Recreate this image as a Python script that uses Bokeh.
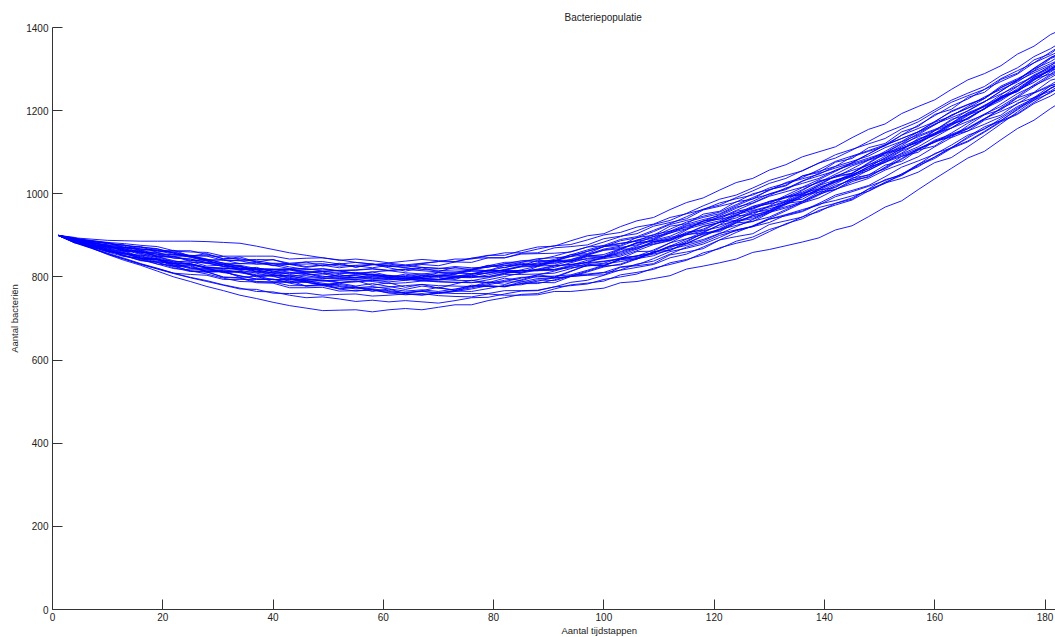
from bokeh.plotting import figure
from bokeh.embed import file_html
from bokeh.resources import INLINE
from bokeh.models import Range1d, FixedTicker, Title

steps = [1, 4, 7, 10, 13, 16, 19, 22, 25, 28, 31, 34, 37, 40, 43, 46, 49, 52, 55, 58, 61,
         64, 67, 70, 73, 76, 79, 82, 85, 88, 91, 94, 97, 100, 103, 106, 109, 112, 115, 118,
         121, 124, 127, 130, 133, 136, 139, 142, 145, 148, 151, 154, 157, 160, 163, 166,
         169, 172, 175, 178, 181, 184]

run_a = [900,892,881,877,874,863,862,859,850,851,849,841,842,841,833,836,837,831,835,831,825,828,823,820,825,822,823,832,830,831,839,841,852,864,868,882,897,905,922,930,940,958,965,982,992,1010,1029,1040,1060,1081,1093,1116,1140,1155,1170,1195,1211,1238,1264,1282,1308,1333]
run_b = [900,883,870,854,840,828,814,800,789,777,767,756,748,739,731,725,719,720,721,716,721,724,721,727,733,733,743,750,758,760,771,781,785,790,805,811,818,834,842,853,870,881,890,909,928,940,960,973,985,1007,1028,1044,1068,1085,1109,1125,1148,1173,1191,1217,1235,1259]
run_c = [900,885,880,866,854,849,837,833,822,814,812,802,795,795,785,778,779,771,766,769,762,757,760,755,753,752,759,756,756,757,765,765,769,773,786,789,796,803,819,826,834,843,859,866,875,884,894,913,923,945,968,983,1010,1036,1061,1086,1102,1130,1157,1177,1205,1230]
run_d = [900,891,885,872,870,865,854,853,850,841,841,839,831,833,832,825,829,830,824,829,831,826,832,837,836,845,852,852,863,872,874,887,899,904,921,935,943,962,979,990,1009,1027,1037,1057,1070,1089,1101,1113,1135,1155,1168,1193,1210,1226,1251,1274,1289,1308,1336,1355,1383,1401]
run_e = [900,890,884,871,866,861,850,846,843,834,825,824,817,809,808,808,802,796,797,800,796,792,796,801,800,799,800,808,815,815,816,826,829,833,846,850,857,873,880,890,905,913,922,939,947,957,975,984,995,1006,1026,1037,1052,1075,1087,1113,1140,1168,1197,1225,1253,1278]
run_f = [900,884,871,865,851,839,835,822,813,812,800,798,789,788,779,779,781,773,774,777,771,766,769,765,771,778,777,777,784,784,793,804,807,811,824,829,844,861,869,879,895,913,921,931,949,959,977,997,1008,1020,1041,1064,1079,1095,1117,1141,1155,1181,1207,1225,1243,1267]
run_g = [900,890,878,873,868,856,852,849,840,832,830,828,820,819,819,813,808,810,811,806,801,803,807,811,809,808,815,823,830,831,832,842,854,865,871,877,891,908,924,934,943,960,977,994,1005,1016,1034,1054,1073,1086,1099,1121,1145,1168,1183,1199,1221,1247,1272,1291,1309,1333]
run_h = [900,886,874,868,856,845,842,832,822,820,818,810,803,803,802,796,791,793,794,789,784,786,790,794,792,791,798,806,806,807,809,820,832,837,843,850,865,882,892,902,912,930,947,958,969,981,1000,1020,1033,1046,1060,1083,1107,1124,1139,1156,1179,1205,1224,1243,1262,1287]
run_i = [900,893,888,883,880,876,873,863,863,854,844,844,836,828,820,820,814,808,809,804,799,801,797,794,799,798,805,813,814,815,823,834,845,849,856,870,885,895,904,915,932,950,960,970,982,1001,1020,1033,1045,1065,1086,1109,1126,1142,1158,1182,1205,1224,1250,1277,1296,1313]
run_j = [900,882,869,855,843,830,820,809,806,804,794,794,794,794,787,789,791,786,789,792,788,792,796,794,801,808,809,818,826,828,838,849,854,867,874,889,897,915,932,943,952,971,988,999,1010,1030,1049,1062,1074,1096,1117,1133,1149,1174,1197,1214,1229,1256,1274,1302,1328,1346]
run_k = [900,889,876,872,868,857,846,835,832,823,821,821,821,814,806,799,800,802,803,798,793,795,799,804,802,801,801,809,817,826,835,839,843,847,853,867,882,892,901,911,920,937,954,964,975,993,1012,1032,1044,1065,1086,1109,1125,1141,1164,1188,1211,1229,1247,1274,1300,1325]
run_l = [900,886,875,869,865,860,857,853,851,843,833,825,817,809,802,795,790,792,794,796,799,795,791,788,787,786,793,801,809,817,826,830,834,838,844,851,858,874,891,908,925,935,944,955,966,978,997,1017,1036,1057,1078,1093,1109,1126,1141,1157,1180,1206,1232,1258,1284,1302]
run_m = [900,891,886,881,877,867,865,862,860,859,850,850,850,850,843,845,846,840,843,839,834,838,842,839,837,845,846,846,855,856,857,860,872,875,881,887,902,910,919,929,945,954,963,980,990,1001,1012,1032,1043,1056,1076,1090,1106,1129,1143,1159,1181,1198,1216,1242,1259,1276]
run_n = [900,884,870,856,843,831,819,808,798,789,780,771,770,761,760,761,756,758,759,754,756,759,756,761,766,765,772,780,781,790,798,801,812,824,831,845,860,870,887,904,914,932,948,959,978,996,1008,1028,1047,1060,1080,1103,1120,1144,1166,1182,1204,1230,1249,1268,1293,1317]
run_o = [900,889,883,877,865,854,843,833,831,823,821,819,819,818,818,812,814,816,817,820,816,819,823,821,819,819,827,835,836,837,839,850,862,873,887,894,909,926,936,946,956,974,991,1008,1027,1039,1058,1078,1091,1104,1118,1141,1165,1188,1211,1228,1251,1277,1296,1315,1341,1366]
run_p = [900,886,873,860,849,845,841,838,835,834,825,816,809,801,794,787,782,777,771,774,776,779,782,779,778,777,784,792,799,800,802,805,816,828,841,847,855,864,880,898,914,924,934,944,962,981,999,1011,1024,1037,1057,1072,1089,1113,1135,1151,1167,1185,1210,1229,1254,1271]
run_q = [900,884,871,857,845,832,821,809,799,791,781,773,765,764,756,750,752,747,741,744,740,743,740,737,743,750,751,759,766,767,776,787,792,804,817,831,838,855,872,883,900,911,921,939,950,962,973,993,1005,1018,1032,1047,1071,1088,1111,1134,1157,1176,1202,1228,1254,1272]
run_r = [900,891,886,880,876,872,868,857,848,839,830,821,814,806,799,792,793,787,788,791,793,796,799,804,809,816,824,831,839,841,850,861,872,884,897,911,926,936,953,971,987,997,1014,1032,1044,1055,1074,1094,1107,1120,1133,1156,1173,1197,1220,1236,1251,1270,1288,1315,1333,1351]
run_s = [900,887,875,863,851,840,836,832,830,822,820,818,818,817,817,817,819,814,808,804,799,795,791,789,787,787,787,788,788,796,797,801,805,810,816,823,830,846,855,872,889,907,923,941,959,978,990,1010,1029,1042,1062,1085,1108,1124,1146,1170,1192,1210,1235,1262,1287,1305]
run_t = [900,894,891,888,887,886,886,886,886,885,883,881,874,866,858,852,846,841,835,831,826,822,818,816,814,814,814,815,815,817,818,828,840,844,850,863,878,887,903,921,931,949,966,977,996,1015,1027,1047,1067,1081,1102,1125,1142,1166,1189,1206,1229,1255,1274,1301,1327,1345]
run_u = [900,889,882,876,871,867,863,860,851,842,833,832,831,831,830,831,832,826,828,830,833,829,833,837,843,843,851,858,858,867,875,878,889,901,907,920,927,943,952,962,978,988,997,1014,1025,1036,1047,1066,1078,1091,1111,1126,1149,1172,1187,1210,1233,1251,1269,1295,1313,1330]
run_v = [900,886,874,861,856,851,840,829,820,818,815,813,805,804,803,803,797,798,799,794,796,798,794,792,797,803,810,810,811,819,827,830,835,846,859,872,879,889,905,922,931,942,958,968,980,998,1016,1028,1041,1061,1081,1096,1113,1136,1158,1174,1190,1216,1241,1260,1279,1303]
run_w = [900,892,887,882,871,867,864,854,852,850,840,839,839,832,824,818,820,815,809,812,815,818,815,812,811,818,826,827,835,844,846,849,861,873,880,886,893,910,927,938,947,965,982,1000,1012,1031,1043,1055,1075,1096,1117,1133,1149,1166,1189,1206,1221,1247,1273,1300,1318,1343]
run_x = [900,887,876,870,858,846,835,825,815,807,797,789,788,787,787,787,781,782,776,771,767,762,765,762,760,760,760,767,767,768,776,779,783,794,800,807,821,830,840,858,868,886,896,914,926,945,957,977,990,1011,1025,1048,1065,1089,1111,1127,1150,1175,1193,1220,1245,1262]
run_y = [900,885,873,861,857,852,849,839,829,821,811,803,795,794,794,794,796,797,799,801,804,800,796,794,800,806,814,815,815,817,818,822,826,831,837,844,851,867,876,887,904,921,938,955,974,992,1011,1030,1050,1070,1083,1105,1129,1152,1167,1190,1213,1232,1258,1284,1302,1320]
run_z = [900,891,886,880,876,871,867,857,847,838,829,820,812,805,797,791,785,779,774,769,765,760,757,762,767,774,781,789,797,805,814,825,836,848,861,875,889,906,916,934,950,968,978,996,1014,1025,1037,1057,1070,1083,1097,1120,1137,1153,1176,1200,1222,1240,1259,1286,1305,1322]
run_aa = [900,886,875,863,852,841,831,820,817,816,814,812,812,811,811,811,813,815,816,819,815,810,807,804,802,802,810,817,825,834,842,853,865,876,890,897,912,928,945,963,973,991,1007,1025,1037,1056,1074,1086,1105,1126,1147,1163,1179,1202,1225,1242,1258,1284,1303,1330,1349,1374]
run_ab = [900,890,879,874,863,859,855,845,843,835,833,825,818,818,811,805,807,802,804,807,803,799,803,801,807,814,815,816,824,826,828,839,850,854,868,881,888,898,915,926,935,953,970,981,992,1004,1023,1043,1056,1069,1090,1113,1130,1146,1169,1193,1209,1227,1253,1280,1299,1324]
run_ac = [900,893,876,876,863,864,849,836,839,841,826,827,812,817,820,809,812,801,806,812,803,795,804,799,794,806,817,813,810,825,837,836,849,848,865,883,885,891,913,935,939,947,969,976,984,1008,1031,1040,1049,1075,1099,1110,1123,1152,1179,1190,1203,1234,1249,1280,1296,1325]
run_ad = [900,882,880,861,859,842,842,825,826,811,813,814,800,803,789,792,781,786,791,780,786,775,782,773,783,792,786,797,791,802,798,813,828,826,843,843,861,864,884,906,909,930,933,954,977,982,1004,1010,1033,1040,1064,1090,1100,1127,1136,1164,1190,1202,1231,1244,1273,1284]
run_ae = [900,891,875,875,861,862,848,850,837,826,829,818,823,812,817,808,799,806,798,806,799,807,800,810,806,818,815,828,826,840,838,854,856,873,876,895,900,922,928,951,958,981,987,1010,1019,1043,1051,1076,1085,1111,1121,1149,1162,1191,1203,1232,1244,1275,1290,1322,1337,1367]
run_af = [900,884,881,863,862,844,844,827,828,813,814,799,802,788,791,778,783,771,776,765,771,760,767,775,767,777,788,782,793,805,800,814,829,827,844,861,862,882,902,906,926,947,950,971,993,998,1020,1043,1049,1073,1097,1106,1133,1143,1169,1179,1205,1234,1246,1276,1288,1316]
run_ag = [900,895,881,883,870,873,859,864,850,856,843,848,836,842,830,836,826,833,823,831,822,814,822,813,823,816,828,822,833,828,840,837,852,850,867,867,885,888,908,912,932,936,956,960,982,987,1009,1015,1038,1045,1069,1078,1105,1115,1141,1151,1177,1189,1218,1231,1260,1271]
run_ah = [900,885,871,865,850,845,831,827,814,812,799,797,786,785,774,774,775,766,767,769,761,763,766,760,765,771,779,776,784,793,791,802,814,826,829,843,858,875,881,899,916,934,940,958,977,996,1004,1024,1044,1065,1075,1098,1122,1146,1158,1182,1205,1231,1246,1273,1299,1324]
run_ai = [900,890,885,873,871,859,859,848,849,840,841,832,835,827,830,823,828,822,827,822,828,823,830,827,836,835,846,846,857,858,870,873,877,892,898,904,922,931,940,961,970,980,1000,1010,1021,1043,1054,1066,1089,1102,1115,1141,1157,1173,1199,1215,1230,1259,1277,1296,1325,1342]
run_aj = [900,886,882,866,863,848,844,831,832,821,810,812,803,793,796,788,780,785,778,784,777,770,778,773,769,780,778,777,788,787,786,801,804,805,823,827,832,853,860,868,889,897,904,926,935,944,967,977,987,1012,1034,1045,1070,1097,1110,1137,1161,1176,1204,1232,1247,1273]

runs = [run_a, run_b, run_c, run_d, run_e, run_f, run_g, run_h, run_i, run_j,
        run_k, run_l, run_m, run_n, run_o, run_p, run_q, run_r, run_s, run_t,
        run_u, run_v, run_w, run_x, run_y, run_z, run_aa, run_ab, run_ac, run_ad,
        run_ae, run_af, run_ag, run_ah, run_ai, run_aj]

x_ticks = [0, 20, 40, 60, 80, 100, 120, 140, 160, 180]
y_ticks = [0, 200, 400, 600, 800, 1000, 1200, 1400]

FONT = "Liberation Sans"
TXT = "#222222"

p = figure(width=1055, height=637, output_backend="svg", toolbar_location=None,
           x_range=Range1d(0, 181.9), y_range=Range1d(0, 1400),
           min_border_left=52, min_border_right=0, min_border_top=27, min_border_bottom=28)
p.outline_line_color = None
p.xgrid.visible = False
p.ygrid.visible = False
p.background_fill_color = "white"
p.border_fill_color = "white"

for r in runs:
    p.line(steps, r, line_color="#0000ff", line_width=0.9)

for ax, ticks in ((p.xaxis[0], x_ticks), (p.yaxis[0], y_ticks)):
    ax.ticker = FixedTicker(ticks=ticks)
    ax.major_tick_in = 10
    ax.major_tick_out = 0
    ax.minor_tick_in = 0
    ax.minor_tick_out = 0
    ax.axis_line_color = "#333333"
    ax.major_tick_line_color = "#333333"
    ax.major_label_text_font = FONT
    ax.major_label_text_font_size = "10px"
    ax.major_label_text_color = TXT
    ax.axis_label_text_font = FONT
    ax.axis_label_text_font_size = "9.5px"
    ax.axis_label_text_font_style = "normal"
    ax.axis_label_text_color = TXT

p.yaxis.axis_label = "Aantal bacteriën"
p.xaxis.major_label_standoff = 3
p.yaxis.major_label_standoff = 4
p.yaxis.axis_label_standoff = 3

p.title = Title(text="Bacteriepopulatie", align="left", offset=512,
                text_font=FONT, text_font_size="10px", text_font_style="normal",
                text_color=TXT, standoff=9)

p.add_layout(Title(text="Aantal tijdstappen", align="left", offset=509,
                   text_font=FONT, text_font_size="9.5px", text_font_style="normal",
                   text_color=TXT, standoff=-2), "below")

open("out.html", "w").write(file_html(p, INLINE))
